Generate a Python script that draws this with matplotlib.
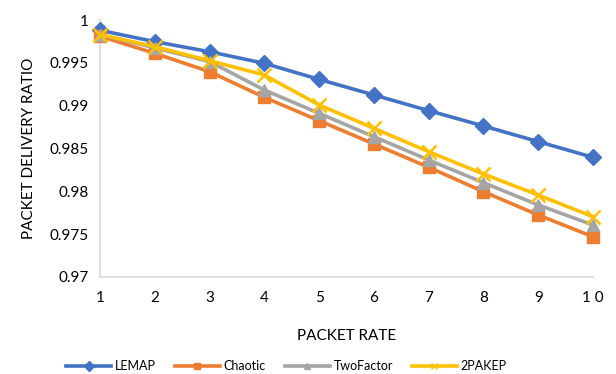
import matplotlib
matplotlib.use("Agg")
import matplotlib.pyplot as plt
from matplotlib.lines import Line2D

plt.rcParams['font.family'] = ['Lato', 'DejaVu Sans']

packet_rate = [1, 2, 3, 4, 5, 6, 7, 8, 9, 10]
x_labels = ["1", "2", "3", "4", "5", "6", "7", "8", "9", "1 0"]
lemap = [0.9988, 0.99747, 0.99630, 0.99494, 0.99307, 0.99125, 0.98942, 0.98763, 0.98580, 0.98397]
chaotic = [0.99810, 0.99611, 0.99397, 0.99097, 0.98825, 0.98553, 0.98281, 0.97996, 0.97724, 0.97470]
twofactor = [0.99830, 0.99675, 0.99514, 0.99183, 0.98911, 0.98638, 0.98366, 0.98101, 0.97841, 0.97607]
twopakep = [0.99830, 0.99689, 0.99525, 0.99358, 0.99008, 0.98736, 0.98463, 0.98202, 0.97957, 0.97704]
y_ticks = [0.97, 0.975, 0.98, 0.985, 0.99, 0.995, 1.0]
y_labels = ["0.97", "0.975", "0.98", "0.985", "0.99", "0.995", "1"]

fig = plt.figure(figsize=(6.16, 3.74), dpi=100)
ax = fig.add_axes([100/616, 1-277/374, 493/616, 257/374])

series = [
    ("LEMAP", lemap, "#4472C4", "D", 8),
    ("Chaotic", chaotic, "#ED7D31", "s", 9),
    ("TwoFactor", twofactor, "#A5A5A5", "^", 9),
    ("2PAKEP", twopakep, "#FFC000", "x", 10),
]
handles = []
for name, vals, col, m, ms in series:
    kw = dict(markeredgewidth=1.8) if m == "x" else dict(markeredgecolor=col)
    ax.plot(packet_rate, vals, color=col, lw=2.6, marker=m, markersize=ms,
            markerfacecolor=col, clip_on=False, zorder=3, **kw)
    handles.append(Line2D([0], [0], color=col, lw=2.6, marker=m, markersize=5,
                          markerfacecolor=col, markeredgecolor=col))

ax.set_xlim(1, 10)
ax.set_ylim(0.97, 1.0)
ax.set_xticks(packet_rate)
ax.set_xticklabels(x_labels)
ax.set_yticks(y_ticks)
ax.set_yticklabels(y_labels)
for s in ["top", "right"]:
    ax.spines[s].set_visible(False)
for s in ["left", "bottom"]:
    ax.spines[s].set_color("#D9D9D9")
    ax.spines[s].set_linewidth(1.2)
ax.tick_params(length=0, labelsize=11, colors="#000000", pad=10)
ax.tick_params(axis="y", pad=8)

ax.set_xlabel("PACKET RATE", fontsize=11, labelpad=17)
ax.set_ylabel("PACKET DELIVERY RATIO", fontsize=11, labelpad=10)

fig.legend(handles, [s[0] for s in series], loc="center", bbox_to_anchor=(0.465, 1-366/374),
           ncol=4, frameon=False, fontsize=9, handlelength=3.6, columnspacing=1.5, handletextpad=0.3)

fig.savefig("out.png", dpi=100)
